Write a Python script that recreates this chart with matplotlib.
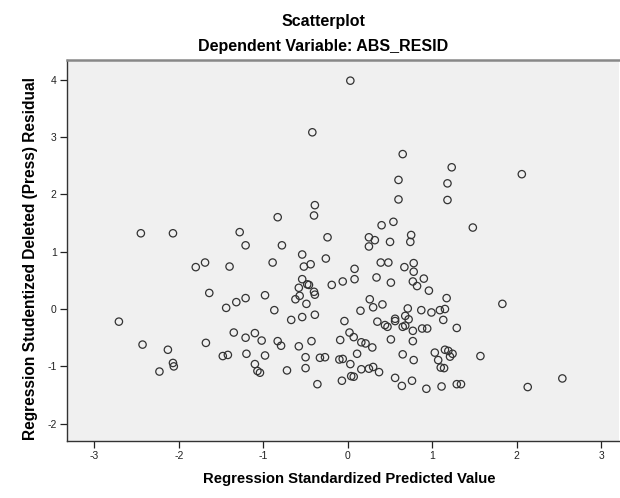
import matplotlib
matplotlib.use("Agg")
import matplotlib.pyplot as plt

# predicted value (x) and studentized deleted residual (y)
pred = [-0.42, -0.39, -0.40, -0.83, -2.45, -2.07, -1.28, -0.24, -1.21, -0.78,
        0.03, 0.65, 1.23, 2.06, 0.60, 1.18, 0.60, 1.18, 0.54, 0.40,
        1.48, 0.25, 0.32, 0.75, 0.50, 0.74, 0.25,
        -0.54, -1.80, -1.69, -1.40, -0.89, -0.52, -0.44, -0.26, -0.54, -0.48,
        -0.46, -0.58, -0.19, -1.64, -0.40, -0.39, -0.57, -0.62, -0.49, -0.98,
        -1.21, -1.32, -1.44, -0.87, -2.71, -0.67, -0.54, -0.39, -2.43, -2.13,
        -1.68, -1.35, -1.10, -1.21, -1.02, -0.83, -0.79, -0.58, -0.43, -2.07,
        -2.06, -2.23, -1.48, -1.42, -1.20, -0.98, -1.10, -1.07, -1.04, -0.72,
        -0.50, -0.33, -0.27, -0.50, -0.36,
        0.39, 0.48, 0.67, 0.78, 0.78, 0.08, 0.08, -0.06, 0.34, 0.51,
        0.77, 0.90, 0.82, 0.96, 0.26, 0.30, 0.41, 0.15, 0.71, 0.87,
        0.99, 1.09, 1.15, 1.17, 1.83, -0.04, 0.35, 0.44, 0.47, 0.56,
        0.56, 0.68, 0.72, 0.65, 0.68, 0.77, 0.88, 0.94, 1.13, 1.29,
        0.02, 0.07, -0.09, 0.16, 0.21, 0.29, 0.51, 0.77, 0.11, -0.10,
        -0.06, 0.03, 0.16, 0.25, 0.30, 0.37, 0.65, 0.78, 1.03, 1.15,
        1.19, 1.21, 1.24, 1.07, 1.10, 1.14, 1.57, -0.07, 0.04, 0.07,
        0.56, 0.64, 0.76, 0.93, 1.11, 1.29, 1.34, 2.13, 2.54]
resid = [3.08, 1.81, 1.63, 1.60, 1.32, 1.32, 1.34, 1.25, 1.11, 1.11,
         3.98, 2.70, 2.47, 2.35, 2.25, 2.19, 1.91, 1.90, 1.52, 1.46,
         1.42, 1.25, 1.20, 1.29, 1.17, 1.17, 1.09,
         0.95, 0.73, 0.81, 0.74, 0.81, 0.74, 0.78, 0.88, 0.52, 0.43,
         0.42, 0.37, 0.42, 0.28, 0.30, 0.25, 0.23, 0.17, 0.09, 0.24,
         0.19, 0.12, 0.02, -0.02, -0.22, -0.19, -0.14, -0.10, -0.62, -0.71,
         -0.59, -0.41, -0.42, -0.50, -0.55, -0.56, -0.64, -0.65, -0.56, -0.94,
         -1.00, -1.09, -0.82, -0.80, -0.78, -0.81, -0.96, -1.08, -1.11, -1.07,
         -0.84, -0.85, -0.84, -1.03, -1.31,
         0.81, 0.81, 0.73, 0.80, 0.65, 0.70, 0.52, 0.48, 0.55, 0.46,
         0.48, 0.53, 0.40, 0.32, 0.17, 0.03, 0.08, -0.03, 0.01, -0.02,
         -0.06, -0.02, 0.00, 0.19, 0.09, -0.21, -0.22, -0.28, -0.31, -0.17,
         -0.21, -0.12, -0.18, -0.31, -0.29, -0.38, -0.34, -0.34, -0.19, -0.33,
         -0.41, -0.49, -0.54, -0.58, -0.60, -0.67, -0.53, -0.56, -0.78, -0.88,
         -0.87, -0.96, -1.05, -1.04, -1.01, -1.10, -0.79, -0.89, -0.76, -0.71,
         -0.73, -0.83, -0.78, -0.89, -1.02, -1.03, -0.82, -1.25, -1.17, -1.18,
         -1.20, -1.34, -1.25, -1.39, -1.35, -1.31, -1.31, -1.36, -1.21]

xticks = [-3, -2, -1, 0, 1, 2, 3]
yticks = [-2, -1, 0, 1, 2, 3, 4]

plt.rcParams['font.family'] = ['Liberation Sans', 'DejaVu Sans']
plt.rcParams['axes.unicode_minus'] = False

fig = plt.figure(figsize=(6.2, 4.98), dpi=100)
ax = fig.add_axes([0.1073, 0.1145, 0.891, 0.765])
ax.set_facecolor('#f0f0f0')

ax.scatter(pred, resid, s=28, facecolors='none', edgecolors='#333333', linewidths=0.9)

ax.set_xlim(-3.33, 3.21)
ax.set_ylim(-2.30, 4.34)
ax.set_xticks(xticks)
ax.set_yticks(yticks)
ax.tick_params(labelsize=7.5, colors='#222222', length=5, width=0.9, pad=2)

for side in ['left', 'bottom']:
    ax.spines[side].set_color('#333333')
    ax.spines[side].set_linewidth(1.0)
ax.spines['top'].set_color('#888888')
ax.spines['top'].set_linewidth(1.8)
ax.spines['right'].set_visible(False)

fig.text(0.563, 1 - 479 / 498, 'Regression Standardized Predicted Value',
         ha='center', va='center', fontsize=10.7, fontweight='bold')
fig.text(0.05, 1 - 258 / 498, 'Regression Studentized Deleted (Press) Residual',
         ha='center', va='center', rotation=90, fontsize=11.2, fontweight='bold')

fig.text(0.521, 1 - 21.5 / 498, 'Scatterplot', ha='center', va='center',
         fontsize=11.5, fontweight='bold')
fig.text(0.521, 1 - 47 / 498, 'Dependent Variable: ABS_RESID', ha='center', va='center',
         fontsize=11.5, fontweight='bold')

fig.savefig('out.png', dpi=100)
